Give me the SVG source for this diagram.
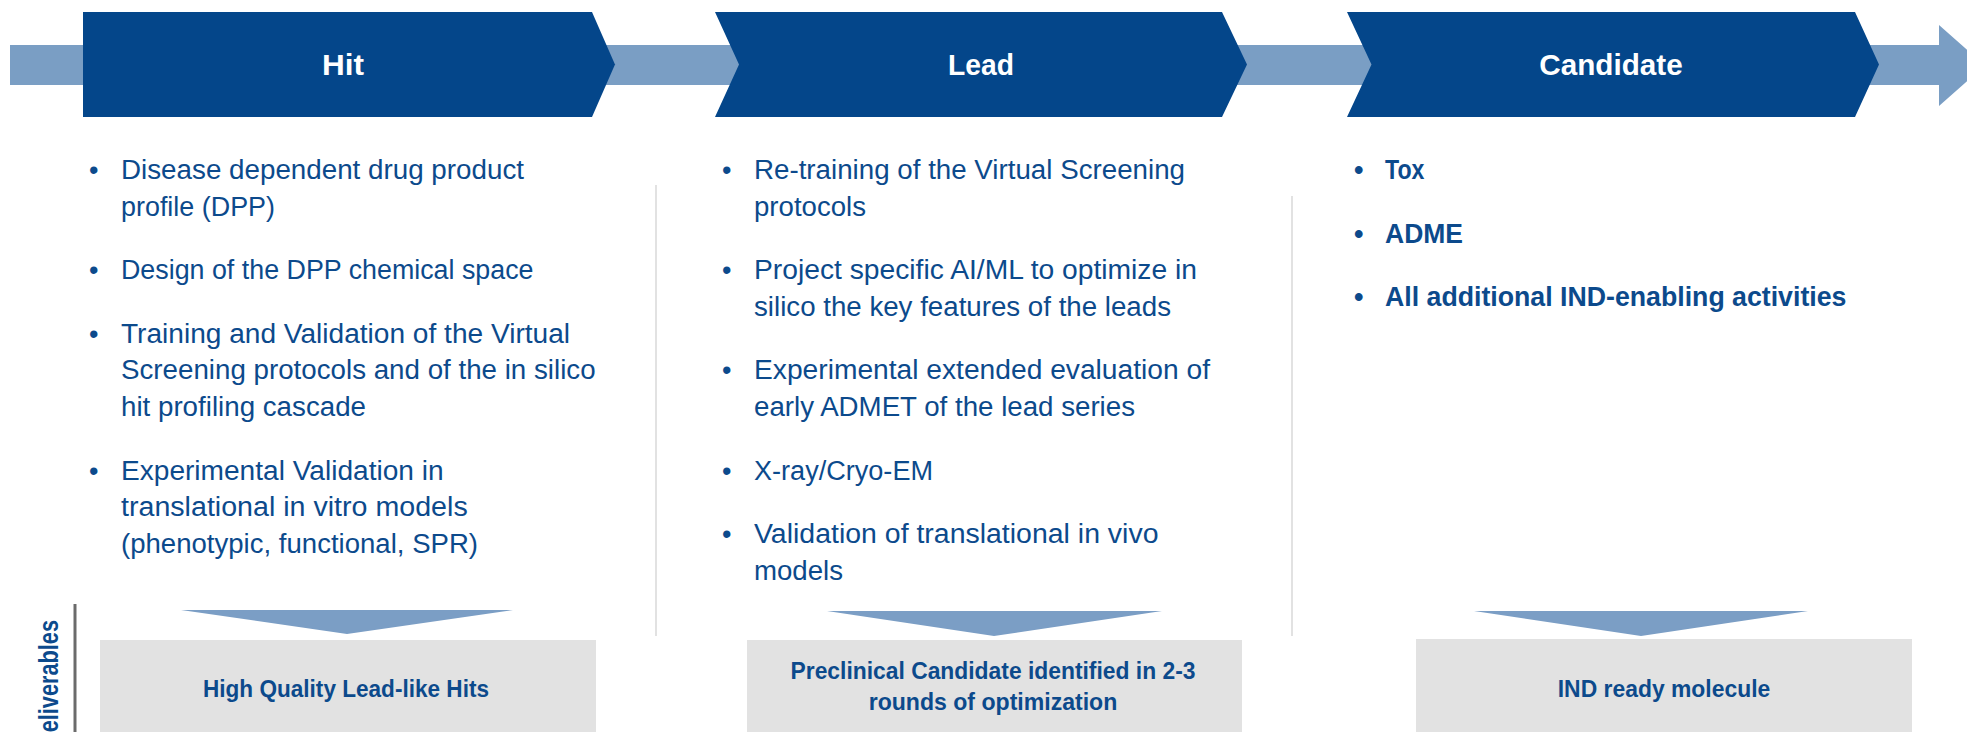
<svg xmlns="http://www.w3.org/2000/svg" width="1967" height="732" viewBox="0 0 1967 732">
  <style>
    .stage { fill: #04468a; }
    .title { font-family: "Liberation Sans", Arial, sans-serif; font-weight: bold; font-size: 29.5px; fill: #ffffff; text-anchor: middle; }
    .body { font-family: "Liberation Sans", Arial, sans-serif; font-size: 27px; fill: #0c4a8c; }
    .bodyb { font-family: "Liberation Sans", Arial, sans-serif; font-size: 27px; font-weight: bold; fill: #0c4a8c; }
    .deliv { font-family: "Liberation Sans", Arial, sans-serif; font-size: 23.4px; font-weight: bold; fill: #0c4a8c; text-anchor: middle; }
    .box { fill: #e2e2e2; }
    .drop { fill: #7b9ec5; }
    .sep { stroke: #d9d9d9; stroke-width: 1.5; fill: none; }
  </style>

  <!-- timeline bar and hand-off arrows -->
  <g id="connectors">
    <path id="timeline" d="M10,45 H1939 V25 L1985,65.5 L1939,106 V85 H10 Z" fill="#7a9ec4"/>
    <polygon class="drop" points="181,610 513,610 347,634"/>
    <polygon class="drop" points="827,611 1162,611 994,636"/>
    <polygon class="drop" points="1474,611 1808,611 1641,636"/>
  </g>

  <!-- column separators -->
  <g id="separators">
    <line class="sep" x1="656" y1="185" x2="656" y2="636"/>
    <line class="sep" x1="1292" y1="196" x2="1292" y2="636"/>
  </g>

  <!-- stage 1: Hit -->
  <g id="hit">
    <path class="stage" d="M83,12 L592,12 L615,64.5 L592,117 L83,117 Z"/>
    <text class="title" x="343" y="74.5" textLength="42" lengthAdjust="spacingAndGlyphs">Hit</text>
    <g class="body">
      <text x="89" y="179">•</text>
      <text x="121" y="179" textLength="403" lengthAdjust="spacingAndGlyphs">Disease dependent drug product</text>
      <text x="121" y="215.7" textLength="154" lengthAdjust="spacingAndGlyphs">profile (DPP)</text>
      <text x="89" y="279.2">•</text>
      <text x="121" y="279.2" textLength="412.5" lengthAdjust="spacingAndGlyphs">Design of the DPP chemical space</text>
      <text x="89" y="342.7">•</text>
      <text x="121" y="342.7" textLength="449" lengthAdjust="spacingAndGlyphs">Training and Validation of the Virtual</text>
      <text x="121" y="379.4" textLength="474.6" lengthAdjust="spacingAndGlyphs">Screening protocols and of the in silico</text>
      <text x="121" y="416.1" textLength="245" lengthAdjust="spacingAndGlyphs">hit profiling cascade</text>
      <text x="89" y="479.6">•</text>
      <text x="121" y="479.6" textLength="322.6" lengthAdjust="spacingAndGlyphs">Experimental Validation in</text>
      <text x="121" y="516.3" textLength="346.7" lengthAdjust="spacingAndGlyphs">translational in vitro models</text>
      <text x="121" y="553" textLength="357" lengthAdjust="spacingAndGlyphs">(phenotypic, functional, SPR)</text>
    </g>
  </g>

  <!-- stage 2: Lead -->
  <g id="lead">
    <path class="stage" d="M715,12 L1222,12 L1247,64.5 L1222,117 L715,117 L739,64.5 Z"/>
    <text class="title" x="981" y="74.5" textLength="66" lengthAdjust="spacingAndGlyphs">Lead</text>
    <g class="body">
      <text x="722" y="179">•</text>
      <text x="754" y="179" textLength="431" lengthAdjust="spacingAndGlyphs">Re-training of the Virtual Screening</text>
      <text x="754" y="215.7" textLength="112" lengthAdjust="spacingAndGlyphs">protocols</text>
      <text x="722" y="279.2">•</text>
      <text x="754" y="279.2" textLength="443" lengthAdjust="spacingAndGlyphs">Project specific AI/ML to optimize in</text>
      <text x="754" y="315.9" textLength="417" lengthAdjust="spacingAndGlyphs">silico the key features of the leads</text>
      <text x="722" y="379.4">•</text>
      <text x="754" y="379.4" textLength="456" lengthAdjust="spacingAndGlyphs">Experimental extended evaluation of</text>
      <text x="754" y="416.1" textLength="381" lengthAdjust="spacingAndGlyphs">early ADMET of the lead series</text>
      <text x="722" y="479.6">•</text>
      <text x="754" y="479.6" textLength="179" lengthAdjust="spacingAndGlyphs">X-ray/Cryo-EM</text>
      <text x="722" y="543.1">•</text>
      <text x="754" y="543.1" textLength="404.5" lengthAdjust="spacingAndGlyphs">Validation of translational in vivo</text>
      <text x="754" y="579.8" textLength="89" lengthAdjust="spacingAndGlyphs">models</text>
    </g>
  </g>

  <!-- stage 3: Candidate -->
  <g id="candidate">
    <path class="stage" d="M1347,12 L1855,12 L1879,64.5 L1855,117 L1347,117 L1371.5,64.5 Z"/>
    <text class="title" x="1611" y="74.5" textLength="143.5" lengthAdjust="spacingAndGlyphs">Candidate</text>
    <g class="bodyb">
      <text x="1354" y="179">•</text>
      <text x="1385" y="179" textLength="39.4" lengthAdjust="spacingAndGlyphs">Tox</text>
      <text x="1354" y="242.5">•</text>
      <text x="1385" y="242.5" textLength="78" lengthAdjust="spacingAndGlyphs">ADME</text>
      <text x="1354" y="306">•</text>
      <text x="1385" y="306" textLength="461.4" lengthAdjust="spacingAndGlyphs">All additional IND-enabling activities</text>
    </g>
  </g>

  <!-- deliverables row -->
  <g id="deliverables-label">
    <line x1="75" y1="604" x2="75" y2="732" stroke="#6b6b6b" stroke-width="3"/>
    <text class="bodyb" font-size="22" transform="translate(58,748) rotate(-90)" textLength="128" lengthAdjust="spacingAndGlyphs">Deliverables</text>
  </g>

  <g id="deliverable-hit">
    <rect class="box" x="100" y="640" width="496" height="100"/>
    <text class="deliv" x="346" y="697" textLength="286" lengthAdjust="spacingAndGlyphs">High Quality Lead-like Hits</text>
  </g>

  <g id="deliverable-lead">
    <rect class="box" x="747" y="640" width="495" height="100"/>
    <text class="deliv" x="993" y="679" textLength="405" lengthAdjust="spacingAndGlyphs">Preclinical Candidate identified in 2-3</text>
    <text class="deliv" x="993" y="710" textLength="248.6" lengthAdjust="spacingAndGlyphs">rounds of optimization</text>
  </g>

  <g id="deliverable-candidate">
    <rect class="box" x="1416" y="639" width="496" height="100"/>
    <text class="deliv" x="1664" y="697" textLength="212.5" lengthAdjust="spacingAndGlyphs">IND ready molecule</text>
  </g>
</svg>
